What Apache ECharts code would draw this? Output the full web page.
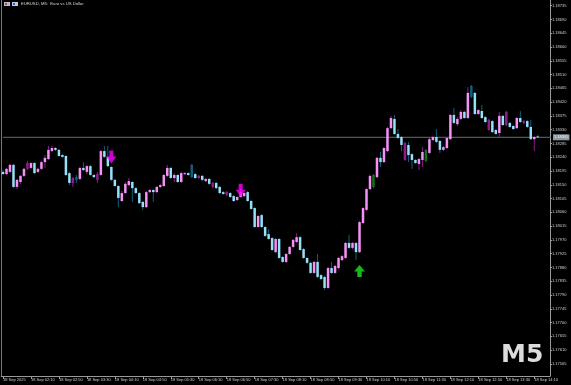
<!DOCTYPE html>
<html>
<head>
<meta charset="utf-8">
<script src="https://cdn.jsdelivr.net/npm/echarts@6/dist/echarts.min.js"></script>
<style>
html,body{margin:0;padding:0;background:#000;}
#chart{width:571px;height:385px;}
</style>
</head>
<body>
<div id="chart"></div>
<script>
// ---- data (EURUSD M5, 18 Sep 2025, bars from 01:30) ----
const startTime = '01:30';
const barMinutes = 5;
const emptyBarsRight = 3;

const openPrices = [
1.18192,1.18185,1.18192,1.18215,1.18143,1.18159,1.18179,1.18202,1.18205,1.18221,
1.18192,1.18202,1.18224,1.18234,1.18260,1.18270,1.18264,1.18247,1.18244,1.18188,
1.18156,1.18175,1.18169,1.18205,1.18192,1.18211,1.18182,1.18166,1.18182,1.18260,
1.18241,1.18208,1.18166,1.18146,1.18097,1.18123,1.18149,1.18159,1.18139,1.18123,
1.18094,1.18077,1.18126,1.18133,1.18126,1.18143,1.18146,1.18179,1.18205,1.18172,
1.18182,1.18159,1.18185,1.18188,1.18215,1.18185,1.18172,1.18179,1.18162,1.18169,
1.18143,1.18156,1.18143,1.18126,1.18117,1.18123,1.18113,1.18100,1.18110,1.18113,
1.18126,1.18097,1.18074,1.18012,1.18051,1.18012,1.17989,1.17976,1.17930,1.17973,
1.17914,1.17898,1.17924,1.17947,1.17963,1.17979,1.17940,1.17911,1.17895,1.17862,
1.17898,1.17855,1.17849,1.17813,1.17878,1.17862,1.17878,1.17904,1.17911,1.17960,
1.17944,1.17960,1.17930,1.18025,1.18068,1.18136,1.18143,1.18175,1.18238,1.18224,
1.18260,1.18335,1.18365,1.18316,1.18306,1.18231,1.18280,1.18250,1.18231,1.18218,
1.18231,1.18228,1.18254,1.18296,1.18306,1.18293,1.18264,1.18270,1.18299,1.18378,
1.18348,1.18365,1.18388,1.18368,1.18473,1.18450,1.18381,1.18391,1.18371,1.18329,
1.18358,1.18329,1.18319,1.18375,1.18345,1.18352,1.18342,1.18335,1.18368,1.18352,
1.18358,1.18339,1.18299,1.18308];

const closePrices = [
1.18185,1.18202,1.18215,1.18143,1.18166,1.18179,1.18202,1.18221,1.18221,1.18188,
1.18202,1.18224,1.18238,1.18264,1.18270,1.18264,1.18244,1.18241,1.18182,1.18156,
1.18172,1.18166,1.18205,1.18198,1.18211,1.18182,1.18175,1.18185,1.18260,1.18241,
1.18211,1.18166,1.18146,1.18107,1.18123,1.18153,1.18162,1.18139,1.18123,1.18090,
1.18077,1.18126,1.18133,1.18126,1.18143,1.18149,1.18182,1.18205,1.18172,1.18182,
1.18159,1.18188,1.18188,1.18182,1.18175,1.18172,1.18179,1.18166,1.18169,1.18153,
1.18156,1.18139,1.18123,1.18120,1.18126,1.18110,1.18097,1.18110,1.18126,1.18123,
1.18097,1.18071,1.18012,1.18048,1.18012,1.17983,1.17973,1.17937,1.17973,1.17911,
1.17898,1.17924,1.17947,1.17970,1.17979,1.17937,1.17911,1.17895,1.17862,1.17898,
1.17849,1.17842,1.17813,1.17878,1.17862,1.17885,1.17911,1.17917,1.17960,1.17944,
1.17960,1.17930,1.18028,1.18074,1.18136,1.18179,1.18182,1.18238,1.18224,1.18270,
1.18335,1.18368,1.18316,1.18303,1.18280,1.18286,1.18247,1.18231,1.18221,1.18234,
1.18257,1.18264,1.18299,1.18306,1.18290,1.18264,1.18273,1.18303,1.18378,1.18352,
1.18365,1.18388,1.18368,1.18450,1.18437,1.18381,1.18394,1.18368,1.18355,1.18362,
1.18322,1.18316,1.18375,1.18345,1.18388,1.18339,1.18332,1.18368,1.18355,1.18358,
1.18339,1.18299,1.18306,1.18305];

const highPrices = [
1.18198,1.18205,1.18218,1.18218,1.18169,1.18182,1.18205,1.18228,1.18224,1.18224,
1.18205,1.18228,1.18247,1.18277,1.18277,1.18273,1.18267,1.18250,1.18247,1.18192,
1.18175,1.18182,1.18208,1.18224,1.18215,1.18215,1.18185,1.18192,1.18264,1.18277,
1.18277,1.18211,1.18169,1.18149,1.18130,1.18159,1.18172,1.18162,1.18143,1.18126,
1.18097,1.18130,1.18136,1.18136,1.18146,1.18153,1.18185,1.18215,1.18208,1.18188,
1.18185,1.18192,1.18192,1.18192,1.18218,1.18188,1.18182,1.18182,1.18172,1.18172,
1.18159,1.18159,1.18146,1.18130,1.18130,1.18126,1.18117,1.18113,1.18139,1.18126,
1.18130,1.18100,1.18077,1.18051,1.18055,1.18015,1.18005,1.17979,1.17976,1.17976,
1.17917,1.17927,1.17950,1.17973,1.17992,1.17983,1.17944,1.17914,1.17898,1.17901,
1.17924,1.17859,1.17852,1.17882,1.17898,1.17888,1.17914,1.17921,1.17963,1.17986,
1.17963,1.17963,1.18032,1.18077,1.18139,1.18182,1.18185,1.18241,1.18257,1.18273,
1.18339,1.18375,1.18378,1.18332,1.18309,1.18290,1.18290,1.18254,1.18234,1.18238,
1.18273,1.18267,1.18303,1.18309,1.18332,1.18296,1.18277,1.18306,1.18381,1.18401,
1.18371,1.18394,1.18391,1.18469,1.18476,1.18453,1.18397,1.18411,1.18375,1.18365,
1.18362,1.18332,1.18388,1.18378,1.18391,1.18355,1.18345,1.18371,1.18391,1.18362,
1.18362,1.18362,1.18309,1.18313];

const lowPrices = [
1.18182,1.18182,1.18188,1.18139,1.18136,1.18153,1.18175,1.18198,1.18202,1.18185,
1.18188,1.18198,1.18205,1.18231,1.18257,1.18260,1.18241,1.18238,1.18179,1.18149,
1.18143,1.18156,1.18166,1.18195,1.18185,1.18179,1.18172,1.18156,1.18179,1.18238,
1.18208,1.18162,1.18143,1.18077,1.18094,1.18120,1.18146,1.18094,1.18120,1.18087,
1.18068,1.18074,1.18123,1.18094,1.18123,1.18139,1.18143,1.18175,1.18169,1.18159,
1.18156,1.18156,1.18182,1.18179,1.18172,1.18169,1.18169,1.18162,1.18159,1.18149,
1.18139,1.18136,1.18120,1.18117,1.18113,1.18107,1.18094,1.18097,1.18107,1.18110,
1.18094,1.18068,1.18009,1.18009,1.18009,1.17979,1.17970,1.17934,1.17927,1.17908,
1.17895,1.17895,1.17921,1.17944,1.17960,1.17934,1.17908,1.17891,1.17859,1.17859,
1.17845,1.17839,1.17806,1.17810,1.17859,1.17859,1.17875,1.17901,1.17908,1.17940,
1.17940,1.17904,1.17927,1.18022,1.18064,1.18133,1.18139,1.18172,1.18208,1.18221,
1.18257,1.18332,1.18313,1.18299,1.18260,1.18228,1.18224,1.18202,1.18218,1.18198,
1.18208,1.18224,1.18250,1.18293,1.18286,1.18254,1.18260,1.18267,1.18296,1.18348,
1.18342,1.18362,1.18365,1.18365,1.18433,1.18378,1.18378,1.18365,1.18352,1.18326,
1.18319,1.18313,1.18303,1.18342,1.18342,1.18335,1.18329,1.18332,1.18352,1.18348,
1.18335,1.18296,1.18260,1.18303];

// candles drawn in the dim palette / dim green in the source
const dimCandles = [7,20,21,27,54,56,60,64,115,134,139,144,149];
const greenCandles = [106,121];

// signal arrows: [bar index, price]
const sellArrows = [[31, 1.18241], [68, 1.18132]];
const buyArrows = [[102, 1.17868]];

const currentPrice = 1.18305;

const priceTicks = [1.17565,1.17610,1.17655,1.17700,1.17745,1.17790,1.17835,1.17880,1.17925,
  1.17970,1.18015,1.18060,1.18105,1.18150,1.18195,1.18240,1.18285,1.18330,1.18375,1.18420,
  1.18465,1.18510,1.18555,1.18600,1.18645,1.18690,1.18735];

const axisMin = 1.175255;
const axisMax = 1.187534;

// ---- categories (bar times) ----
const times = [];
{
  const [h0, m0] = startTime.split(':').map(Number);
  const total = openPrices.length + emptyBarsRight;
  for (let i = 0; i < total; i++) {
    const t = h0 * 60 + m0 + i * barMinutes;
    const hh = String(Math.floor(t / 60)).padStart(2, '0');
    const mm = String(t % 60).padStart(2, '0');
    times.push(hh + ':' + mm);
  }
}

const candleData = openPrices.map((o, i) => {
  const kind = greenCandles.includes(i) ? 2 : (dimCandles.includes(i) ? 1 : 0);
  return [i, o, closePrices[i], lowPrices[i], highPrices[i], kind];
});

const COL = {
  bullBody: '#f592f5', bearBody: '#96e0f8',
  bullWick: '#8c1c8c', bearWick: '#135f7c',
  bullDim: '#8e1e8e', bearDim: '#10607c', green: '#10721a'
};

function renderCandle(params, api) {
  const idx = api.value(0);
  const o = api.value(1), c = api.value(2), l = api.value(3), h = api.value(4);
  const kind = api.value(5);
  const bull = c >= o;
  const pO = api.coord([idx, o]);
  const pC = api.coord([idx, c]);
  const pL = api.coord([idx, l]);
  const pH = api.coord([idx, h]);
  const x = pO[0];
  const bw = 2.5;
  let body, wick;
  if (kind === 2) { body = COL.green; wick = COL.green; }
  else if (kind === 1) { body = bull ? COL.bullDim : COL.bearDim; wick = body; }
  else { body = bull ? COL.bullBody : COL.bearBody; wick = bull ? COL.bullWick : COL.bearWick; }
  const top = Math.min(pO[1], pC[1]);
  const hgt = Math.max(1, Math.abs(pO[1] - pC[1]));
  return {
    type: 'group',
    children: [
      { type: 'line', shape: { x1: x, y1: pH[1], x2: x, y2: pL[1] },
        style: { stroke: wick, lineWidth: 1 } },
      { type: 'rect', shape: { x: x - bw / 2, y: top, width: bw, height: hgt },
        style: { fill: body } }
    ]
  };
}

const chart = echarts.init(document.getElementById('chart'), null, { renderer: 'canvas' });

const downArrow = 'path://M3,0 L7,0 L7,6 L10,6 L5,13 L0,6 L3,6 Z';
const upArrow = 'path://M5,0 L10,7 L7,7 L7,13 L3,13 L3,7 L0,7 Z';

chart.setOption({
  backgroundColor: '#000000',
  animation: false,
  title: [{
    text: 'EURUSD, M5:  Euro vs US Dollar',
    left: 21, top: 2, padding: 0,
    textStyle: { color: '#d8d8d8', fontSize: 4.2, fontWeight: 'normal', fontFamily: 'Liberation Sans' }
  }],
  graphic: [
    { type: 'rect', left: 4, top: 2, shape: { width: 6, height: 4 }, style: { fill: '#b8b8c8' } },
    { type: 'rect', left: 5, top: 3, shape: { width: 2, height: 2 }, style: { fill: '#d83a3a' } },
    { type: 'rect', left: 12, top: 2, shape: { width: 6, height: 4 }, style: { fill: '#c0c8e0' } },
    { type: 'rect', left: 13, top: 3, shape: { width: 2, height: 2 }, style: { fill: '#3a5ad8' } },
    { type: 'text', left: 501, top: 343,
      style: { text: 'M5', fill: '#dcdcdc', font: 'bold 25px "DejaVu Sans"' } }
  ],
  grid: { left: 1, right: 21, top: 0, bottom: 9, containLabel: false },
  xAxis: {
    type: 'category',
    data: times,
    boundaryGap: true,
    axisLine: { show: true, lineStyle: { color: '#9a9a9a', width: 1 } },
    axisTick: {
      show: true, alignWithLabel: true, length: 3,
      interval: (i) => i % 8 === 0 && i < openPrices.length,
      lineStyle: { color: '#9a9a9a' }
    },
    axisLabel: {
      show: true,
      interval: (i) => i % 8 === 0 && i < openPrices.length,
      formatter: (v, i) => i === 0 ? '18 Sep 2025' : '18 Sep ' + v,
      color: '#cfcfcf', fontSize: 4, fontFamily: 'Liberation Sans',
      align: 'left', margin: 2
    },
    splitLine: { show: false }
  },
  yAxis: [{
    type: 'value',
    position: 'right',
    min: axisMin, max: axisMax,
    axisLine: { show: true, lineStyle: { color: '#9a9a9a', width: 1 } },
    axisTick: { show: true, length: 2, customValues: priceTicks, lineStyle: { color: '#9a9a9a' } },
    axisLabel: {
      show: true, customValues: priceTicks,
      formatter: (v) => v.toFixed(5),
      color: '#cfcfcf', fontSize: 4, fontFamily: 'Liberation Sans', margin: 2
    },
    splitLine: { show: false }
  }, {
    type: 'value',
    position: 'left',
    min: axisMin, max: axisMax,
    axisLine: { show: true, lineStyle: { color: '#7a7a7a', width: 1 } },
    axisTick: { show: false }, axisLabel: { show: false }, splitLine: { show: false }
  }],
  series: [
    {
      type: 'line',
      name: 'current price',
      data: [[-0.5, currentPrice], [times.length - 0.5, currentPrice]],
      showSymbol: false,
      symbol: 'none',
      silent: true,
      lineStyle: { color: '#5c6f7a', width: 1 },
      endLabel: {
        show: true,
        distance: 2,
        formatter: () => currentPrice.toFixed(5),
        color: '#f2f2f2', backgroundColor: '#8a98a0',
        fontSize: 4, fontFamily: 'Liberation Sans', padding: [1, 1]
      },
      z: 1
    },
    {
      type: 'custom',
      name: 'EURUSD',
      renderItem: renderCandle,
      data: candleData,
      encode: { x: 0, y: [1, 2, 3, 4] },
      clip: true,
      silent: true,
      z: 2
    },
    {
      type: 'scatter',
      name: 'sell',
      data: sellArrows,
      symbol: downArrow,
      symbolSize: [10, 13],
      itemStyle: { color: '#ff00ff' },
      silent: true,
      z: 5
    },
    {
      type: 'scatter',
      name: 'buy',
      data: buyArrows,
      symbol: upArrow,
      symbolSize: [11, 12],
      itemStyle: { color: '#1ee61e' },
      silent: true,
      z: 5
    }
  ]
});
</script>
</body>
</html>
